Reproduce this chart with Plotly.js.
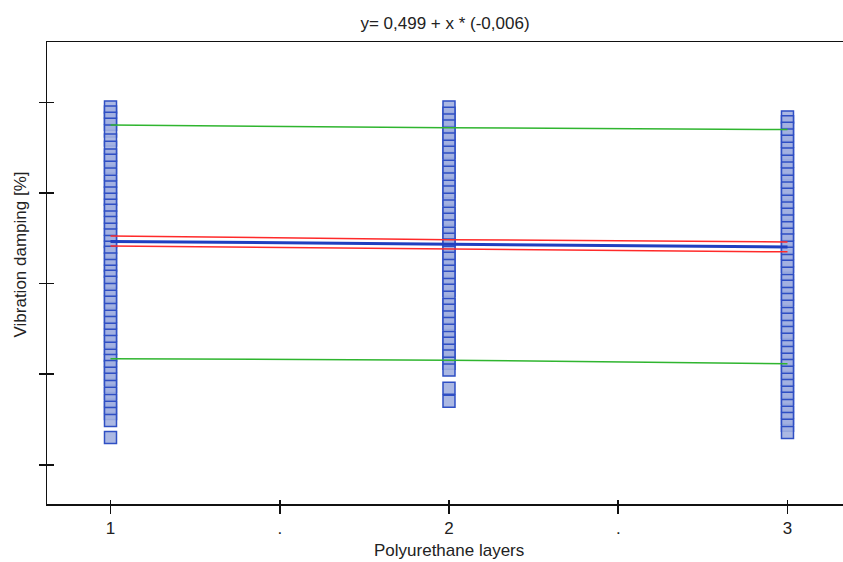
<!DOCTYPE html>
<html>
<head>
<meta charset="utf-8">
<script src="https://cdn.plot.ly/plotly-3.0.1.min.js"></script>
<style>html,body{margin:0;padding:0;background:#fff;}#chart{width:843px;height:562px;}</style>
</head>
<body>
<div id="chart"></div>
<script>
// ---- data ----
const layers1 = [0.790,0.779,0.765,0.752,0.737,0.717,0.701,0.684,0.672,0.657,0.642,0.626,0.613,0.600,0.586,0.573,0.562,0.547,0.535,0.520,0.507,0.493,0.480,0.469,0.454,0.440,0.427,0.416,0.403,0.387,0.372,0.359,0.343,0.328,0.314,0.299,0.286,0.272,0.257,0.242,0.230,0.217,0.202,0.189,0.173,0.158,0.142,0.127,0.113,0.098,0.060];
const layers2 = [0.790,0.776,0.761,0.748,0.732,0.719,0.703,0.690,0.675,0.659,0.646,0.631,0.615,0.602,0.586,0.571,0.555,0.542,0.527,0.511,0.498,0.485,0.469,0.456,0.440,0.427,0.414,0.398,0.385,0.370,0.354,0.341,0.326,0.312,0.297,0.281,0.268,0.253,0.240,0.224,0.209,0.169,0.140];
const layers3 = [0.768,0.757,0.743,0.728,0.714,0.699,0.686,0.670,0.655,0.642,0.626,0.611,0.597,0.582,0.567,0.553,0.538,0.523,0.509,0.496,0.480,0.467,0.451,0.438,0.423,0.407,0.394,0.378,0.365,0.350,0.334,0.321,0.305,0.292,0.277,0.261,0.248,0.233,0.219,0.204,0.189,0.175,0.160,0.147,0.131,0.116,0.102,0.087,0.071];

const lineX = [1, 2, 3];
const fitY = [0.493, 0.487, 0.481];          // y = 0,499 + x*(-0,006)
const confUpper = [0.505, 0.497, 0.492];
const confLower = [0.483, 0.476, 0.470];
const predUpper = [0.750, 0.744, 0.740];
const predLower = [0.234, 0.231, 0.223];

const xTickVals = [1, 1.5, 2, 2.5, 3];
const xTickText = ['1', '.', '2', '.', '3'];
const yTickVals = [0, 0.2, 0.4, 0.6, 0.8];

const titleText = 'y= 0,499 + x * (-0,006)';
const xTitle = 'Polyurethane layers';
const yTitle = 'Vibration damping [%]';

// ---- traces ----
function col(x, vals) {
  return {
    x: vals.map(() => x), y: vals, type: 'scatter', mode: 'markers',
    marker: {symbol: 'square', size: 12, color: 'rgba(162,176,224,0.9)',
             line: {color: '#2f4fc4', width: 1.5}},
    hoverinfo: 'y', showlegend: false
  };
}
const traces = [
  col(1, layers1), col(2, layers2), col(3, layers3),
  {x: lineX, y: predUpper, mode: 'lines', line: {color: '#2fb52f', width: 1.5}, showlegend: false},
  {x: lineX, y: predLower, mode: 'lines', line: {color: '#2fb52f', width: 1.5}, showlegend: false},
  {x: lineX, y: confUpper, mode: 'lines', line: {color: '#ff2a2a', width: 1.5}, showlegend: false},
  {x: lineX, y: confLower, mode: 'lines', line: {color: '#ff2a2a', width: 1.5}, showlegend: false},
  {x: lineX, y: fitY, mode: 'lines', line: {color: '#1f3fc0', width: 3}, showlegend: false},
  {x: [1], y: [0.4], xaxis: 'x2', yaxis: 'y2', mode: 'markers', marker: {opacity: 0}, hoverinfo: 'skip', showlegend: false}
];

const xr = [0.8124, 3.164];
const yr = [-0.0866, 0.9333];
const fnt = {family: 'Liberation Sans, Arial, sans-serif', size: 17, color: '#222'};

const layout = {
  width: 843, height: 562,
  margin: {l: 47, r: 0, t: 42, b: 58, pad: 0},
  paper_bgcolor: '#fff', plot_bgcolor: '#fff',
  font: fnt,
  title: {text: titleText, font: fnt, xref: 'paper', x: 0.5, xanchor: 'center', yref: 'container', y: 1 - 23/562, yanchor: 'middle'},
  xaxis: {range: xr, tickvals: xTickVals, ticktext: xTickText, ticks: 'outside', ticklen: 8, tickwidth: 1.5, tickcolor: '#111',
          showline: true, linecolor: '#111', linewidth: 1.5, mirror: true, showgrid: false, zeroline: false,
          tickfont: fnt, fixedrange: true},
  yaxis: {range: yr, tickvals: yTickVals, ticks: 'outside', ticklen: 7, tickwidth: 1.5, tickcolor: '#111',
          showticklabels: false, showline: true, linecolor: '#111', linewidth: 1.5, mirror: false,
          showgrid: false, zeroline: false, fixedrange: true},
  xaxis2: {overlaying: 'x', anchor: 'y2', range: xr, tickvals: xTickVals, ticks: 'inside', ticklen: 4, tickwidth: 1.5,
           tickcolor: '#111', showticklabels: false, showline: false, showgrid: false, zeroline: false, side: 'bottom'},
  yaxis2: {overlaying: 'y', anchor: 'x2', range: yr, tickvals: yTickVals, ticks: 'inside', ticklen: 7, tickwidth: 1.5,
           tickcolor: '#111', showticklabels: false, showline: false, showgrid: false, zeroline: false, side: 'left'},
  annotations: [
    {text: yTitle, xref: 'paper', yref: 'paper', x: -27/796, y: (503.5-254)/462, xanchor: 'center', yanchor: 'middle',
     textangle: -90, showarrow: false, font: fnt},
    {text: xTitle, xref: 'paper', yref: 'paper', x: (449-47)/796, y: (503.5-550)/462, xanchor: 'center', yanchor: 'middle',
     showarrow: false, font: fnt}
  ]
};

Plotly.newPlot('chart', traces, layout, {staticPlot: true, displayModeBar: false});
</script>
</body>
</html>
